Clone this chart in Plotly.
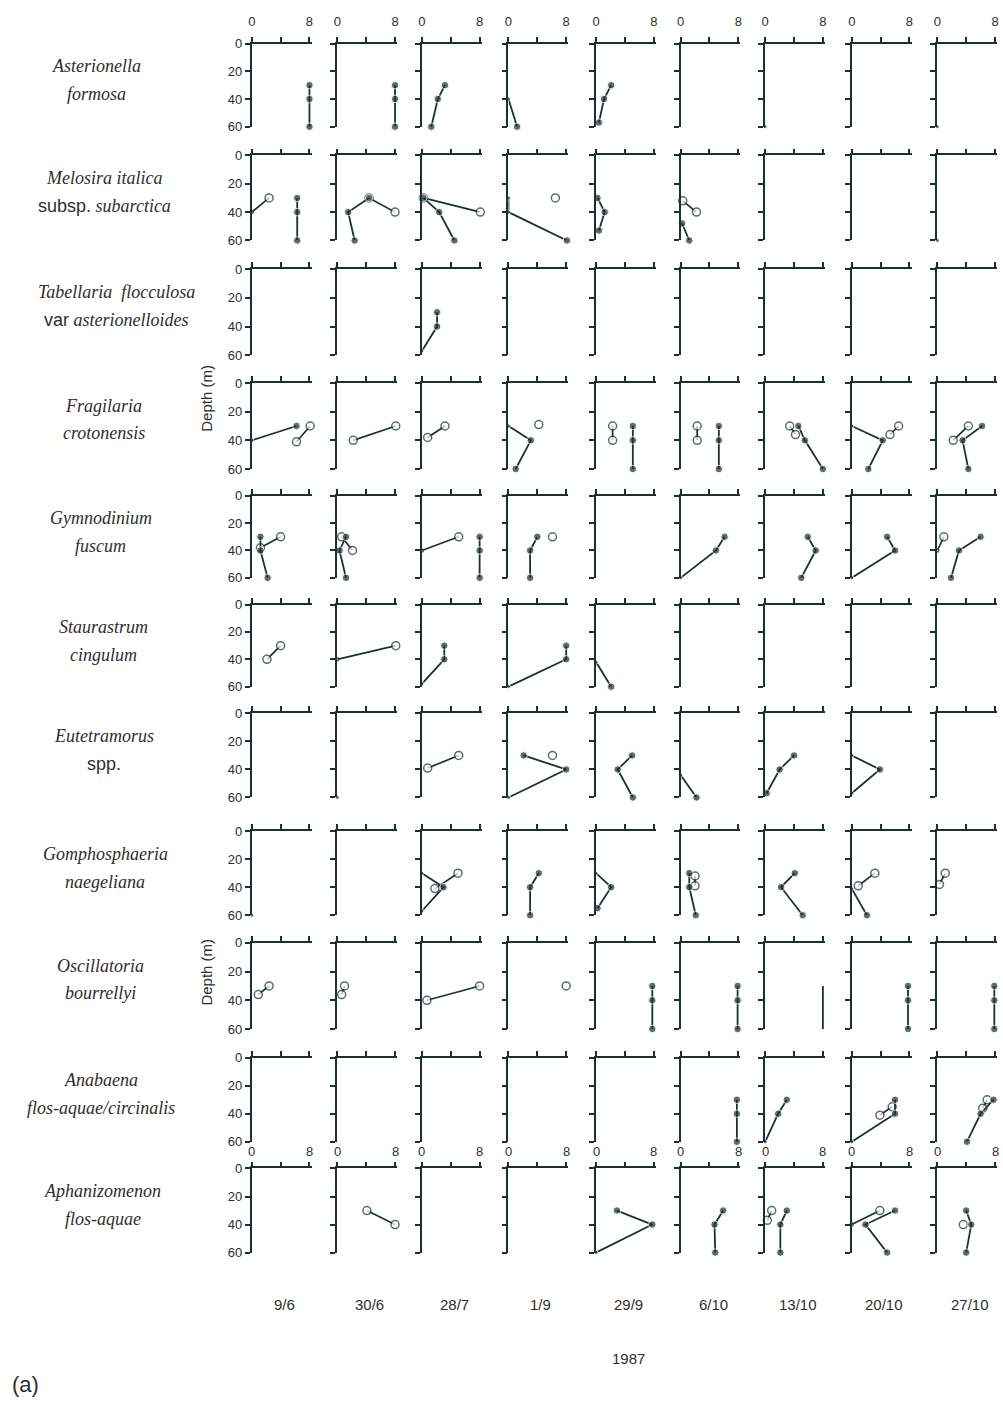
import plotly.graph_objects as go

# ---------------- data ----------------
DATES = ["9/6", "30/6", "28/7", "1/9", "29/9", "6/10", "13/10", "20/10", "27/10"]
YEAR = "1987"
DEPTH_TICKS = [0, 20, 40, 60]
VALUE_TICKS = [0, 4, 8]
VALUE_TICK_TEXT = ["0", "", "8"]

SPECIES_LINE1 = ["<i>Asterionella</i>", "<i>Melosira italica</i>", "<i>Tabellaria  flocculosa</i>",
                 "<i>Fragilaria</i>", "<i>Gymnodinium</i>", "<i>Staurastrum</i>", "<i>Eutetramorus</i>",
                 "<i>Gomphosphaeria</i>", "<i>Oscillatoria</i>", "<i>Anabaena</i>", "<i>Aphanizomenon</i>"]
SPECIES_LINE2 = ["<i>formosa</i>",
                 "<span style='font-family:Liberation Sans;font-style:normal'>subsp.</span> <i>subarctica</i>",
                 "<span style='font-family:Liberation Sans;font-style:normal'>var</span> <i>asterionelloides</i>",
                 "<i>crotonensis</i>", "<i>fuscum</i>", "<i>cingulum</i>",
                 "<span style='font-family:Liberation Sans;font-style:normal'>spp.</span>",
                 "<i>naegeliana</i>", "<i>bourrellyi</i>", "<i>flos-aquae/circinalis</i>", "<i>flos-aquae</i>"]

# each entry: one list per sampling date of [value, depth] pairs
ASTERIONELLA_OPEN = [[], [], [], [], [], [], [], [], []]
ASTERIONELLA_FILLED = [
    [[8, 30], [8, 40], [8, 60]],
    [[8, 30], [8, 40], [8, 60]],
    [[3.2, 30], [2.2, 40], [1.3, 60]],
    [[0, 40], [1.2, 60]],
    [[2.1, 30], [1.1, 40], [0.4, 57]],
    [],
    [[0, 60]],
    [],
    [[0, 60]]]

MELOSIRA_OPEN = [
    [[2.4, 30], [0, 40]],
    [[4.4, 30], [8, 40]],
    [[0.2, 30], [8.1, 40]],
    [[6.5, 30]],
    [],
    [[0.3, 32], [2.2, 40]],
    [], [], []]
MELOSIRA_FILLED = [
    [[6.3, 30], [6.3, 40], [6.3, 60]],
    [[4.4, 30], [1.5, 40], [2.4, 60]],
    [[0.2, 30], [2.4, 40], [4.5, 60]],
    [[0, 30], [0, 40], [8.1, 60]],
    [[0.2, 30], [1.2, 40], [0.4, 53]],
    [[0.2, 48], [1.2, 60]],
    [], [], [[0, 60]]]

TABELLARIA_OPEN = [[], [], [], [], [], [], [], [], []]
TABELLARIA_FILLED = [[], [], [[2.1, 30], [2.1, 40], [0, 57]], [], [], [], [], [], []]

FRAGILARIA_OPEN = [
    [[8.1, 30], [6.2, 41]],
    [[8.1, 30], [2.2, 40]],
    [[3.2, 30], [0.8, 38]],
    [[4.2, 29]],
    [[2.3, 30], [2.3, 40]],
    [[2.3, 30], [2.3, 40]],
    [[3.4, 30], [4.2, 36]],
    [[6.5, 30], [5.3, 36]],
    [[4.3, 30], [2.2, 40]]]
FRAGILARIA_FILLED = [
    [[6.2, 30], [0, 40]],
    [],
    [],
    [[0, 30], [3.1, 40], [1.0, 60]],
    [[5.1, 30], [5.1, 40], [5.1, 60]],
    [[5.3, 30], [5.3, 40], [5.3, 60]],
    [[4.6, 30], [5.5, 40], [8, 60]],
    [[0, 30], [4.3, 40], [2.3, 60]],
    [[6.2, 30], [3.5, 40], [4.3, 60]]]

GYMNODINIUM_OPEN = [
    [[4.0, 30], [1.2, 38]],
    [[0.6, 30], [2.1, 40]],
    [[0, 40], [5.1, 30]],
    [[6.1, 30]],
    [], [], [], [],
    [[0.9, 30], [0, 40]]]
GYMNODINIUM_FILLED = [
    [[1.2, 30], [1.2, 40], [2.2, 60]],
    [[1.2, 30], [0.3, 40], [1.2, 60]],
    [[8, 30], [8, 40], [8, 60]],
    [[4.0, 30], [3.0, 40], [3.0, 60]],
    [],
    [[6.1, 30], [4.9, 40], [0, 60]],
    [[5.9, 30], [7.0, 40], [5.0, 60]],
    [[4.9, 30], [6.0, 40], [0, 60]],
    [[6.0, 30], [3.0, 40], [1.9, 60]]]

STAURASTRUM_OPEN = [
    [[4.0, 30], [2.1, 40]],
    [[8.1, 30], [0, 40]],
    [], [], [], [], [], [], []]
STAURASTRUM_FILLED = [
    [], [],
    [[3.1, 30], [3.1, 40], [0, 58]],
    [[8, 30], [8, 40], [0, 60]],
    [[0, 42], [2.1, 60]],
    [], [], [], []]

EUTETRAMORUS_OPEN = [[], [], [[5.1, 30], [0.8, 39]], [[6.1, 30]], [], [], [], [], []]
EUTETRAMORUS_FILLED = [
    [], [[0, 60]], [],
    [[2.1, 30], [8, 40], [0, 60]],
    [[5.0, 30], [3.0, 40], [5.1, 60]],
    [[0, 44], [2.2, 60]],
    [[4.0, 30], [2.0, 40], [0.2, 57]],
    [[0, 30], [3.9, 40], [0, 57]],
    []]

GOMPHOSPHAERIA_OPEN = [
    [], [], [[5.0, 30], [1.8, 41]], [], [],
    [[2.0, 32], [2.0, 39]], [],
    [[3.2, 30], [0.9, 39]],
    [[1.1, 30], [0.3, 38]]]
GOMPHOSPHAERIA_FILLED = [
    [[0, 60]], [],
    [[0, 30], [3.0, 40], [0, 57]],
    [[4.2, 30], [3.0, 40], [3.0, 60]],
    [[0, 30], [2.1, 40], [0.2, 55]],
    [[1.2, 30], [1.2, 40], [2.1, 60]],
    [[4.1, 30], [2.2, 40], [5.2, 60]],
    [[0, 41], [2.1, 60]],
    []]

OSCILLATORIA_OPEN = [
    [[2.4, 30], [0.9, 36]],
    [[1.0, 30], [0.6, 36]],
    [[8.0, 30], [0.7, 40]],
    [[8.0, 30]],
    [], [], [], [], []]
OSCILLATORIA_FILLED = [
    [], [], [], [],
    [[7.8, 30], [7.8, 40], [7.8, 60]],
    [[7.9, 30], [7.9, 40], [7.9, 60]],
    [],
    [[7.8, 30], [7.8, 40], [7.8, 60]],
    [[7.9, 30], [7.9, 40], [7.9, 60]]]
OSCILLATORIA_UNMARKED = [[], [], [], [], [], [], [[8, 30], [8, 60]], [], []]

ANABAENA_OPEN = [[], [], [], [], [], [], [],
                 [[5.6, 35], [3.9, 41]],
                 [[6.9, 30], [6.3, 36]]]
ANABAENA_FILLED = [
    [], [], [], [], [],
    [[7.8, 30], [7.8, 40], [7.8, 60]],
    [[3.0, 30], [1.8, 40], [0, 60]],
    [[6.0, 30], [6.0, 40], [0, 60]],
    [[7.8, 30], [6.0, 40], [4.1, 60]]]

APHANIZOMENON_OPEN = [
    [], [[4.1, 30], [8.0, 40]], [], [], [], [],
    [[0.9, 30], [0.3, 37]],
    [[3.9, 30], [0, 40]],
    [[3.6, 40]]]
APHANIZOMENON_FILLED = [
    [], [], [], [],
    [[2.9, 30], [7.8, 40], [0, 60]],
    [[5.9, 30], [4.7, 40], [4.8, 60]],
    [[3.0, 30], [2.1, 40], [2.1, 60]],
    [[6.0, 30], [1.9, 40], [4.9, 60]],
    [[4.0, 30], [4.7, 40], [4.0, 60]]]

EMPTY9 = [[], [], [], [], [], [], [], [], []]
SPECIES_DATA = [
    (ASTERIONELLA_OPEN, ASTERIONELLA_FILLED, EMPTY9),
    (MELOSIRA_OPEN, MELOSIRA_FILLED, EMPTY9),
    (TABELLARIA_OPEN, TABELLARIA_FILLED, EMPTY9),
    (FRAGILARIA_OPEN, FRAGILARIA_FILLED, EMPTY9),
    (GYMNODINIUM_OPEN, GYMNODINIUM_FILLED, EMPTY9),
    (STAURASTRUM_OPEN, STAURASTRUM_FILLED, EMPTY9),
    (EUTETRAMORUS_OPEN, EUTETRAMORUS_FILLED, EMPTY9),
    (GOMPHOSPHAERIA_OPEN, GOMPHOSPHAERIA_FILLED, EMPTY9),
    (OSCILLATORIA_OPEN, OSCILLATORIA_FILLED, OSCILLATORIA_UNMARKED),
    (ANABAENA_OPEN, ANABAENA_FILLED, EMPTY9),
    (APHANIZOMENON_OPEN, APHANIZOMENON_FILLED, EMPTY9),
]

# ---------------- layout geometry (pixels) ----------------
W, H = 1003, 1408
COL_X0 = [249, 335, 420, 507, 595, 680, 765, 852, 938]
PANEL_W = 58          # pixels for 8 units
X_MAX = 8.3           # a little room past the last tick so marks at 8 are not clipped
ROW_Y0 = [37, 150, 265, 380, 494, 604, 714, 833, 946, 1062, 1174]
ROW_Y60 = [121, 236, 352, 467, 577, 687, 799, 918, 1033, 1147, 1259]
LABEL_CX = [93, 101, 113, 100, 97, 100, 100, 102, 97, 97, 99]

INK = "#1e2f2f"
TXT = "#2e2e2e"
SANS = "Liberation Sans, Arial, sans-serif"
SERIF = "Liberation Serif, Times New Roman, serif"


def px(x):
    return x / W


def py(y):
    return 1 - y / H


fig = go.Figure()
layout = {}
annotations = []

for r in range(11):
    open_list, filled_list, unmarked_list = SPECIES_DATA[r]
    for c in range(9):
        k = r * 9 + c + 1
        sfx = "" if k == 1 else str(k)
        xa, ya = "x" + sfx, "y" + sfx
        layout["xaxis" + sfx] = dict(
            domain=[px(COL_X0[c]), px(COL_X0[c] + PANEL_W * X_MAX / 8)], range=[0, X_MAX],
            anchor=ya, side="top", showline=True, linecolor=INK, linewidth=1.8,
            ticks="outside", ticklen=5, tickwidth=1.6, tickcolor=INK,
            tickvals=VALUE_TICKS, ticktext=VALUE_TICK_TEXT, showticklabels=(r == 0),
            ticklabelstandoff=6,
            tickfont=dict(family=SANS, size=13, color=TXT),
            showgrid=False, zeroline=False, fixedrange=True)
        layout["yaxis" + sfx] = dict(
            domain=[py(ROW_Y60[r]), py(ROW_Y0[r])], range=[60, 0], anchor=xa,
            showline=True, linecolor=INK, linewidth=1.8,
            ticks="outside", ticklen=5, tickwidth=1.6, tickcolor=INK,
            tickvals=DEPTH_TICKS, showticklabels=(c == 0),
            tickfont=dict(family=SANS, size=13, color=TXT),
            showgrid=False, zeroline=False, fixedrange=True)

        # keep every panel drawn
        fig.add_trace(go.Scatter(x=[], y=[], xaxis=xa, yaxis=ya, hoverinfo="skip"))

        um = unmarked_list[c]
        if um:
            fig.add_trace(go.Scatter(
                x=[p[0] for p in um], y=[p[1] for p in um], xaxis=xa, yaxis=ya,
                mode="lines", line=dict(color=INK, width=1.8), cliponaxis=False))
        op = open_list[c]
        if op:
            fig.add_trace(go.Scatter(
                x=[p[0] for p in op], y=[p[1] for p in op], xaxis=xa, yaxis=ya,
                mode="lines+markers", line=dict(color=INK, width=1.7),
                marker=dict(symbol="circle", color="white",
                            size=[3 if p[0] == 0 else 8 for p in op],
                            line=dict(color=INK, width=1.5)),
                cliponaxis=False))
        fl = filled_list[c]
        if fl:
            fig.add_trace(go.Scatter(
                x=[p[0] for p in fl], y=[p[1] for p in fl], xaxis=xa, yaxis=ya,
                mode="lines+markers", line=dict(color=INK, width=1.8),
                marker=dict(symbol="circle", color=INK,
                            size=[4 if p[0] == 0 else 7.5 for p in fl]),
                cliponaxis=False))

        # value tick labels below the Anabaena row
        if r == 9:
            for v, t in zip(VALUE_TICKS, VALUE_TICK_TEXT):
                if t:
                    annotations.append(dict(
                        x=v, y=py(1157), xref=xa, yref="paper", text=t, showarrow=False,
                        xanchor="center", yanchor="middle",
                        font=dict(family=SANS, size=13, color=TXT)))
        # date labels
        if r == 10:
            annotations.append(dict(
                x=4.5, y=py(1311), xref=xa, yref="paper", text=DATES[c], showarrow=False,
                xanchor="center", yanchor="middle",
                font=dict(family=SANS, size=15, color=TXT)))

    # species labels
    annotations.append(dict(
        x=px(LABEL_CX[r]), y=py(ROW_Y0[r] + 23), xref="paper", yref="paper",
        text=SPECIES_LINE1[r], showarrow=False, xanchor="center", yanchor="middle",
        font=dict(family=SERIF, size=18, color=TXT)))
    annotations.append(dict(
        x=px(LABEL_CX[r]), y=py(ROW_Y0[r] + 51), xref="paper", yref="paper",
        text=SPECIES_LINE2[r], showarrow=False, xanchor="center", yanchor="middle",
        font=dict(family=SERIF, size=18, color=TXT)))

for yy in (395, 975):
    annotations.append(dict(
        x=px(204), y=py(yy), xref="paper", yref="paper", text="Depth (m)",
        showarrow=False, textangle=-90, xanchor="center", yanchor="middle",
        font=dict(family=SANS, size=15, color=TXT)))

annotations.append(dict(x=px(628), y=py(1366), xref="paper", yref="paper", text=YEAR,
                        showarrow=False, xanchor="center", yanchor="middle",
                        font=dict(family=SANS, size=15, color=TXT)))
annotations.append(dict(x=px(22), y=py(1392), xref="paper", yref="paper", text="(a)",
                        showarrow=False, xanchor="center", yanchor="middle",
                        font=dict(family=SANS, size=22, color=TXT)))

fig.update_layout(
    width=W, height=H, margin=dict(l=0, r=0, t=0, b=0),
    paper_bgcolor="white", plot_bgcolor="white", showlegend=False,
    annotations=annotations, **layout)

fig.write_html("out.html", config={"displayModeBar": False},
               post_script="document.body.style.margin='0';document.body.style.padding='0';")
